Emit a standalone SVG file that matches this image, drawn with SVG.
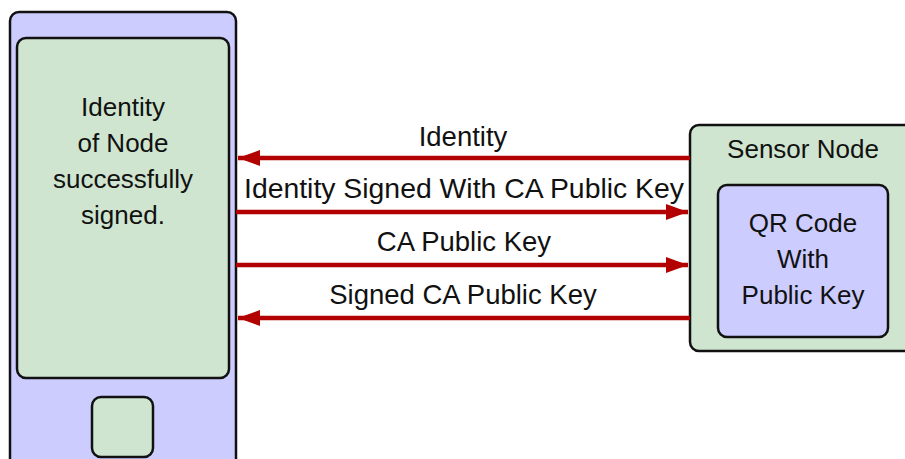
<svg xmlns="http://www.w3.org/2000/svg" width="905" height="459" viewBox="0 0 905 459">
  <style>
    .box { stroke: #111; stroke-width: 2.5; }
    .blue { fill: #ccccff; }
    .green { fill: #cfe5cf; }
    .lbl { font-family: "Liberation Sans", Arial, sans-serif; font-size: 26px; fill: #111; text-anchor: middle; }
    .big { font-size: 27.5px; }
    .msg { stroke: #b30000; stroke-width: 4.5; fill: none; }
  </style>
  <defs>
    <marker id="head" markerUnits="userSpaceOnUse" markerWidth="24" markerHeight="18" refX="22" refY="9" orient="auto">
      <path d="M0,1 L22,9 L0,17 Z" fill="#b30000"/>
    </marker>
  </defs>

  <!-- Phone -->
  <g id="phone">
    <rect class="box blue" x="10" y="12" width="226" height="470" rx="9"/>
    <rect class="box green" x="17" y="38" width="212" height="340" rx="9"/>
    <rect class="box green" x="92" y="397" width="61" height="60" rx="9"/>
    <text class="lbl" x="123" y="116">Identity</text>
    <text class="lbl" x="123" y="152">of Node</text>
    <text class="lbl" x="123" y="188">successfully</text>
    <text class="lbl" x="123" y="224">signed.</text>
  </g>

  <!-- Sensor node -->
  <g id="sensor-node">
    <rect class="box green" x="690" y="125" width="240" height="226" rx="9"/>
    <text class="lbl" x="803" y="158">Sensor Node</text>
  </g>
  <g id="qr-code">
    <rect class="box blue" x="718" y="185" width="170" height="152" rx="9"/>
    <text class="lbl" x="803" y="232">QR Code</text>
    <text class="lbl" x="803" y="268">With</text>
    <text class="lbl" x="803" y="304">Public Key</text>
  </g>

  <!-- Messages -->
  <g id="connectors">
    <line class="msg" x1="690" y1="158" x2="238" y2="158" marker-end="url(#head)"/>
    <line class="msg" x1="236" y1="212" x2="688" y2="212" marker-end="url(#head)"/>
    <line class="msg" x1="236" y1="265" x2="688" y2="265" marker-end="url(#head)"/>
    <line class="msg" x1="690" y1="318" x2="238" y2="318" marker-end="url(#head)"/>
    <text class="lbl big" x="463" y="146">Identity</text>
    <text class="lbl big" x="464" y="198" textLength="440" lengthAdjust="spacingAndGlyphs">Identity Signed With CA Public Key</text>
    <text class="lbl big" x="464" y="251">CA Public Key</text>
    <text class="lbl big" x="463" y="304">Signed CA Public Key</text>
  </g>
</svg>
